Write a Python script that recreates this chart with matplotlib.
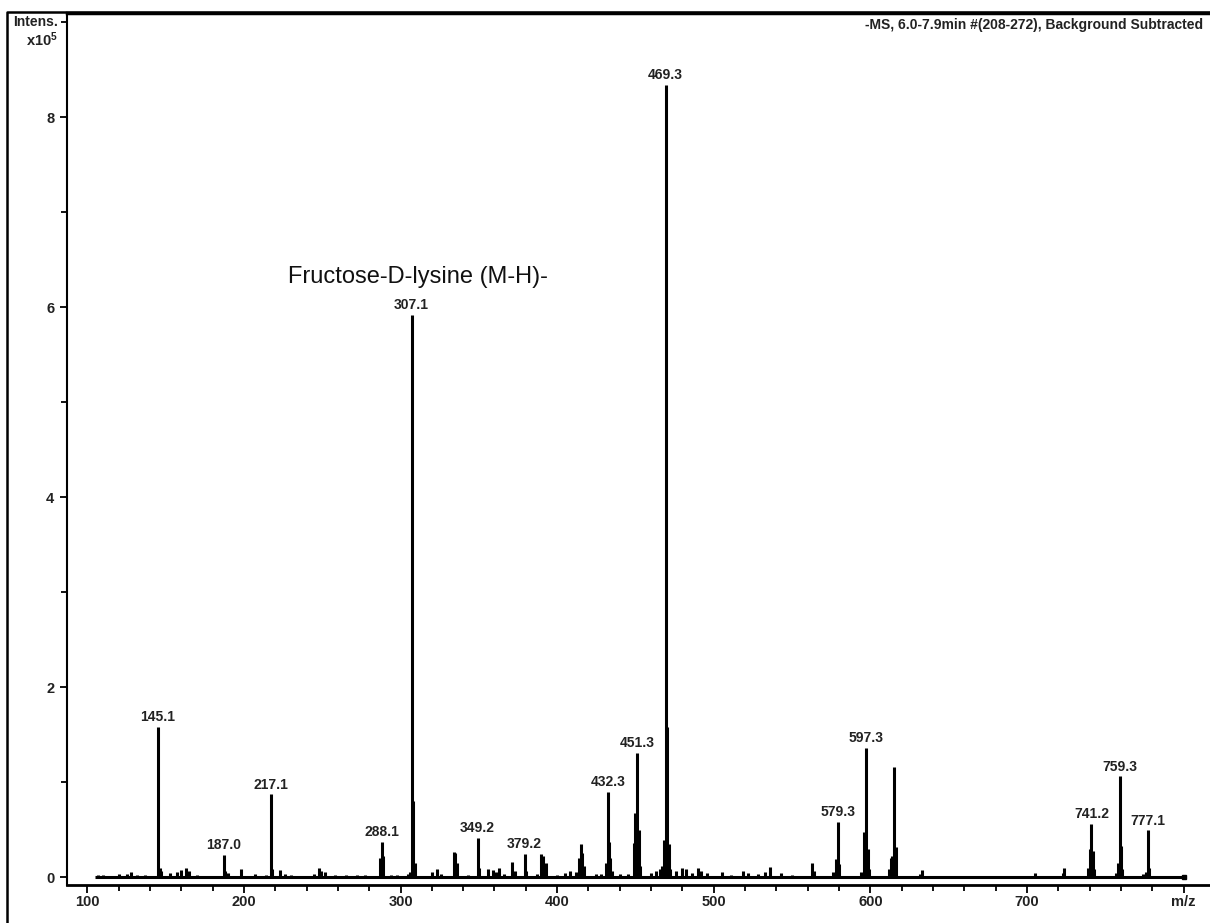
"""Mass spectrum (-MS) of fructose-D-lysine, redrawn with matplotlib."""

import matplotlib

matplotlib.use("Agg")
from matplotlib import pyplot as plt
from matplotlib.lines import Line2D
from matplotlib.ticker import MultipleLocator

# scan range of the spectrum (m/z)
scan_range = [105, 800]

# stick peaks: m/z and intensity (x10^5)
peak_mz = [
    107, 110, 120, 125, 128, 132, 137,
    145.1, 146.1, 147, 153, 157, 160, 163, 165, 170,
    187.0, 188, 190, 198,
    207, 214, 217.1, 218, 223, 226, 230,
    245, 248, 249, 252, 258, 265, 272, 277,
    287, 288.1, 289, 294, 298, 305, 306,
    307.1, 308.1, 309, 320, 323, 326,
    334, 335, 336, 343, 349.2, 350,
    356, 359, 361, 363, 366, 371, 373, 379.2, 380,
    387, 390, 391, 393, 400, 405, 408, 412,
    414, 415, 416, 417, 425, 428,
    431, 432.3, 433.3, 434, 435, 440, 445,
    449, 450, 451.3, 452.3, 453, 460, 463, 466,
    467, 468, 469.3, 470.3, 471.3, 472,
    476, 480, 482, 486, 490, 492, 496, 505, 511, 519, 522, 528, 533, 536, 543, 550,
    563, 564, 576, 578, 579.3, 580.3,
    594, 596, 597.3, 598.3, 599,
    612, 613, 614, 615.3, 616.3, 632, 633,
    705, 723, 724,
    739, 740, 741.2, 742, 743,
    757, 758, 759.3, 760.3, 761,
    774, 776, 777.1, 778,
]
peak_int = [
    0.02, 0.02, 0.03, 0.03, 0.05, 0.02, 0.02,
    1.58, 0.10, 0.06, 0.04, 0.05, 0.07, 0.09, 0.06, 0.02,
    0.23, 0.06, 0.04, 0.08,
    0.03, 0.02, 0.87, 0.08, 0.07, 0.03, 0.02,
    0.03, 0.10, 0.06, 0.05, 0.02, 0.02, 0.02, 0.02,
    0.20, 0.37, 0.22, 0.02, 0.02, 0.03, 0.05,
    5.92, 0.80, 0.15, 0.05, 0.08, 0.03,
    0.26, 0.25, 0.15, 0.02, 0.41, 0.10,
    0.08, 0.07, 0.05, 0.09, 0.03, 0.16, 0.06, 0.24, 0.06,
    0.03, 0.24, 0.22, 0.15, 0.02, 0.04, 0.06, 0.05,
    0.20, 0.35, 0.25, 0.12, 0.03, 0.03,
    0.15, 0.90, 0.37, 0.20, 0.06, 0.03, 0.03,
    0.36, 0.67, 1.31, 0.50, 0.12, 0.04, 0.06, 0.08,
    0.12, 0.39, 8.34, 1.58, 0.35, 0.08,
    0.06, 0.09, 0.08, 0.04, 0.10, 0.06, 0.04, 0.05, 0.02, 0.06, 0.04, 0.03, 0.05, 0.11, 0.04, 0.02,
    0.15, 0.06, 0.05, 0.19, 0.58, 0.14,
    0.05, 0.47, 1.36, 0.30, 0.08,
    0.08, 0.20, 0.22, 1.16, 0.32, 0.03, 0.07,
    0.04, 0.04, 0.10,
    0.10, 0.30, 0.56, 0.27, 0.08,
    0.04, 0.15, 1.06, 0.33, 0.08,
    0.03, 0.05, 0.49, 0.10,
]

# labelled peaks
label_mz = [145.1, 187.0, 217.1, 288.1, 307.1, 349.2, 379.2, 432.3, 451.3,
            469.3, 579.3, 597.3, 741.2, 759.3, 777.1]
label_int = [1.58, 0.23, 0.87, 0.37, 5.92, 0.41, 0.24, 0.90, 1.31,
             8.34, 0.58, 1.36, 0.56, 1.06, 0.49]

x_ticks = [100, 200, 300, 400, 500, 600, 700, 800]
x_tick_labels = ["100", "200", "300", "400", "500", "600", "700", "m/z"]
y_ticks = [0, 2, 4, 6, 8]

compound_note = "Fructose-D-lysine (M-H)-"
header = "-MS, 6.0-7.9min #(208-272), Background Subtracted"

plt.rcParams["font.family"] = ["Liberation Sans", "DejaVu Sans"]
plt.rcParams["mathtext.default"] = "regular"

W, H = 1210, 923
fig = plt.figure(figsize=(W / 100, H / 100), dpi=100)
fig.patch.set_facecolor("white")

left, right, top, bottom = 67, 1215, 13, 885
ax = fig.add_axes([left / W, 1 - bottom / H, (right - left) / W, (bottom - top) / H])

# spectrum
ax.plot(scan_range, [0, 0], color="black", linewidth=2.2, solid_capstyle="butt")
ax.plot(scan_range[-1], 0, "s", color="black", markersize=3)
ax.vlines(peak_mz, 0, peak_int, color="black", linewidth=2.2)

for mz, inten in zip(label_mz, label_int):
    ax.annotate(f"{mz:.1f}", (mz, inten), xytext=(0, 2), textcoords="offset points",
                ha="center", va="bottom", fontsize=10, fontweight="bold", color="#222222")

ax.text(310.9, 6.32, compound_note, ha="center", va="center", fontsize=17, color="#111111")

ax.set_xlim(87.0, 100 + (right - 87.3) / 1.566)
ax.set_ylim(-0.084, 9.095)

ax.set_xticks(x_ticks, x_tick_labels)
ax.xaxis.set_minor_locator(MultipleLocator(20))
ax.set_yticks(y_ticks)
ax.yaxis.set_minor_locator(MultipleLocator(1))
ax.tick_params(axis="x", which="major", length=6, width=1.3, pad=1, labelsize=10.5)
ax.tick_params(axis="x", which="minor", length=4, width=1.3)
ax.tick_params(axis="y", which="major", length=5, width=1.3, pad=4, labelsize=10.5)
ax.tick_params(axis="y", which="minor", length=4, width=1.3)
for label in [*ax.get_xticklabels(), *ax.get_yticklabels()]:
    label.set_fontweight("bold")
    label.set_color("#222222")

ax.spines["right"].set_visible(False)
ax.spines["left"].set_linewidth(1.5)
ax.spines["bottom"].set_linewidth(2.0)
ax.spines["top"].set_linewidth(2.5)

# axis caption at the top of the y axis
fig.text(58 / W, 1 - 22 / H, "Intens.", ha="right", va="center", fontsize=10,
         fontweight="bold", color="#222222")
fig.text(58 / W, 1 - 40 / H, "x10$^{5}$", ha="right", va="center", fontsize=10.5,
         fontweight="bold", color="#222222")
fig.text(1203 / W, 1 - 25 / H, header, ha="right", va="center", fontsize=10,
         fontweight="bold", color="#222222")

# outer frame
fig.add_artist(Line2D([7 / W, 7 / W, 1.0], [0.0, 1 - 12 / H, 1 - 12 / H],
                      transform=fig.transFigure, color="black", linewidth=1.8))

fig.savefig("out.png", dpi=100, facecolor="white")
plt.close(fig)
